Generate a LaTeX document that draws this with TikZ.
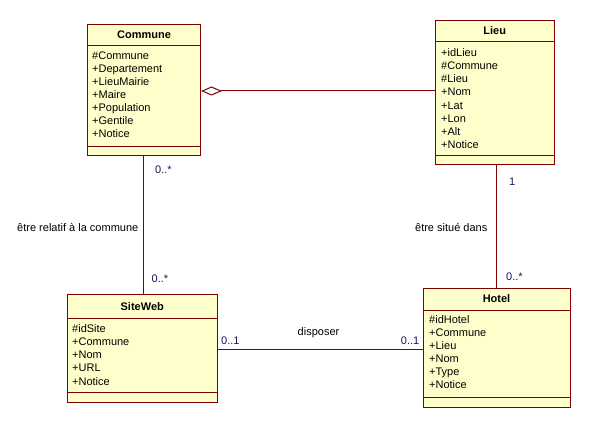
\documentclass[tikz,border=0pt]{standalone}
\usepackage{fontspec}
\setmainfont{Liberation Sans}
\usetikzlibrary{arrows.meta}
\definecolor{umlred}{RGB}{128,0,0}
\definecolor{umlfill}{RGB}{255,255,204}
\definecolor{mult}{RGB}{20,20,90}
\begin{document}
\begin{tikzpicture}[x=1pt,y=-1pt,
  cls/.style={draw=umlred,fill=umlfill,line width=1pt,inner sep=0pt,rectangle},
  sep/.style={draw=umlred,line width=1pt},
  title/.style={font=\fontsize{11}{13}\selectfont\bfseries,inner sep=0pt,anchor=center},
  attr/.style={font=\fontsize{11}{13.1}\selectfont,inner sep=0pt,anchor=north west,align=left},
  lbl/.style={font=\fontsize{11}{13}\selectfont,inner sep=0pt},
  mlt/.style={font=\fontsize{11}{13}\selectfont,inner sep=0pt,text=mult},
  assoc/.style={draw=umlred,line width=1pt}]
\useasboundingbox (0,0) rectangle (590,428);
% Commune
\node[cls,minimum width=113,minimum height=131.5] (commune) at (144,90.25) {};
\draw[sep] (87.5,46) -- (200.5,46);
\draw[sep] (87.5,146.5) -- (200.5,146.5);
\node[title] (communet) at (144,35) {Commune};
\node[attr] (communea) at (92,51.5) {\#Commune\\+Departement\\+LieuMairie\\+Maire\\+Population\\+Gentile\\+Notice};
% Lieu
\node[cls,minimum width=119.5,minimum height=144.5] (lieu) at (494.75,92.75) {};
\draw[sep] (435,42) -- (554.5,42);
\draw[sep] (435,155.7) -- (554.5,155.7);
\node[title] (lieut) at (494.75,31) {Lieu};
\node[attr] (lieua) at (441,48.5) {+idLieu\\\#Commune\\\#Lieu\\+Nom\\+Lat\\+Lon\\+Alt\\+Notice};
% SiteWeb
\node[cls,minimum width=149.5,minimum height=107.5] (site) at (142.25,348.25) {};
\draw[sep] (67.5,318.5) -- (217,318.5);
\draw[sep] (67.5,392.5) -- (217,392.5);
\node[title] (sitet) at (142.25,307) {SiteWeb};
\node[attr] (sitea) at (72,324.5) {\#idSite\\+Commune\\+Nom\\+URL\\+Notice};
% Hotel
\node[cls,minimum width=147,minimum height=118.5] (hotel) at (496.5,347.75) {};
\draw[sep] (423,310) -- (570,310);
\draw[sep] (423,397.5) -- (570,397.5);
\node[title] (hotelt) at (496.5,299) {Hotel};
\node[attr] (hotela) at (429,315) {\#idHotel\\+Commune\\+Lieu\\+Nom\\+Type\\+Notice};
% Commune - Lieu (aggregation)
\coordinate (c1) at (commune.east |- 0,91);
\coordinate (l1) at (lieu.west |- 0,91);
\draw[assoc,{Diamond[open,fill=white,length=21pt,width=9pt,line width=1pt]}-] (c1) -- (l1);
% Commune - SiteWeb
\coordinate (c2) at (commune.south -| 143,0);
\coordinate (s2) at (site.north -| 143,0);
\draw[assoc] (c2) -- (s2);
\node[mlt,anchor=west] (m1) at (155,170) {0..*};
\node[mlt,anchor=west] (m2) at (151.5,279) {0..*};
\node[lbl,anchor=east] (r1) at (138.5,228) {être relatif à la commune};
% Lieu - Hotel
\coordinate (l3) at (lieu.south -| 496,0);
\coordinate (h3) at (hotel.north -| 496,0);
\draw[assoc] (l3) -- (h3);
\node[mlt,anchor=west] (m3) at (509,182) {1};
\node[mlt,anchor=west] (m4) at (506,276.5) {0..*};
\node[lbl,anchor=east] (r2) at (487.5,228) {être situé dans};
% SiteWeb - Hotel
\coordinate (s4) at (site.east |- 0,349);
\coordinate (h4) at (hotel.west |- 0,349);
\draw[assoc] (s4) -- (h4);
\node[mlt,anchor=west] (m5) at (221,341) {0..1};
\node[mlt,anchor=east] (m6) at (419.5,341) {0..1};
\node[lbl] (r3) at (318.5,333) {disposer};
\end{tikzpicture}
\end{document}
